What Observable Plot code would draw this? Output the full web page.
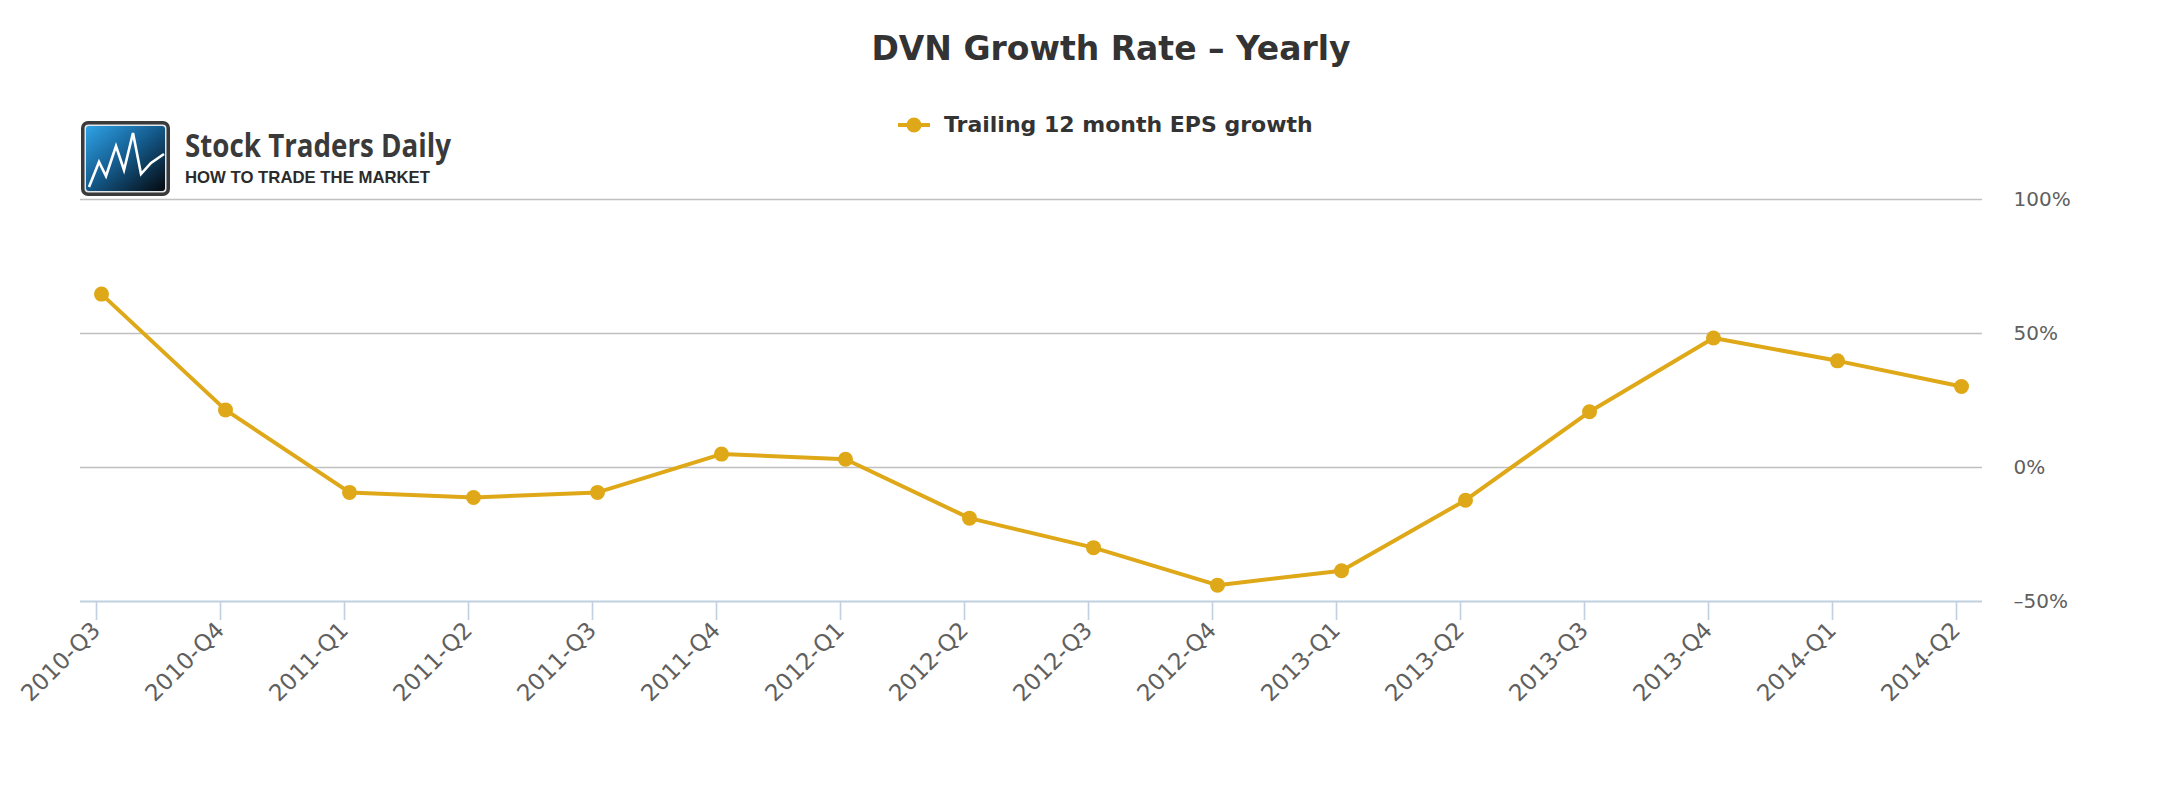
<!DOCTYPE html>
<html>
<head>
<meta charset="utf-8">
<script src="https://cdn.jsdelivr.net/npm/d3@7"></script>
<script src="https://cdn.jsdelivr.net/npm/@observablehq/plot@0.6"></script>
<style>
  body { margin: 0; background: #ffffff; }
  #wrap { position: relative; width: 2182px; height: 800px; overflow: hidden; font-family: "DejaVu Sans", sans-serif; }
  #chart, #deco { position: absolute; left: 0; top: 0; }
  #deco { pointer-events: none; }
</style>
</head>
<body>
<div id="wrap">
  <div id="chart"></div>
  <svg id="deco" width="2182" height="800" xmlns="http://www.w3.org/2000/svg">
    <defs>
      <linearGradient id="logoGrad" x1="0" y1="0" x2="1" y2="1">
        <stop offset="0" stop-color="#2fa3e6"/>
        <stop offset="0.45" stop-color="#155f93"/>
        <stop offset="1" stop-color="#05080d"/>
      </linearGradient>
    </defs>
    <text id="title" x="1111" y="60" text-anchor="middle" font-family="DejaVu Sans" font-weight="bold" font-size="33" fill="#333333"></text>
    <g id="legend"></g>
    <g id="logo">
      <rect x="81" y="121" width="89" height="75" rx="7" ry="7" fill="#3a3a3a"/>
      <rect x="84.5" y="124.5" width="82" height="68" rx="4" ry="4" fill="#dfe6ec"/>
      <rect x="86" y="126" width="79" height="65" rx="3" ry="3" fill="url(#logoGrad)"/>
      <polyline points="89,187 99,162 106,176 116,146 124,170 133,133 141,174 151,163 164,154" fill="none" stroke="#ffffff" stroke-width="2.6" stroke-linejoin="miter"/>
      <text x="185" y="157" font-family="Open Sans" font-weight="bold" font-size="32" fill="#3a3a3a" textLength="266" lengthAdjust="spacingAndGlyphs">Stock Traders Daily</text>
      <text x="185" y="183" font-family="Liberation Sans" font-weight="bold" font-size="17" fill="#2b2b2b" textLength="245" lengthAdjust="spacingAndGlyphs">HOW TO TRADE THE MARKET</text>
    </g>
  </svg>
</div>
<script>
// ---- data ----
const quarters = ["2010-Q3","2010-Q4","2011-Q1","2011-Q2","2011-Q3","2011-Q4","2012-Q1","2012-Q2","2012-Q3","2012-Q4","2013-Q1","2013-Q2","2013-Q3","2013-Q4","2014-Q1","2014-Q2"];
const growth = [64.7, 21.5, -9.3, -11.2, -9.3, 5.0, 3.1, -18.9, -29.9, -43.9, -38.5, -12.2, 20.8, 48.3, 39.8, 30.2];
const yTicks = [-50, 0, 50, 100];
const gridTicks = [0, 50, 100];
const seriesName = "Trailing 12 month EPS growth";
const chartTitle = "DVN Growth Rate \u2013 Yearly";
const seriesColor = "#dea818";

const data = quarters.map((q, i) => ({quarter: q, growth: growth[i]}));

const chart = Plot.plot({
  width: 2182,
  height: 800,
  marginLeft: 80,
  marginRight: 200,
  marginTop: 199,
  marginBottom: 199,
  style: {fontFamily: "DejaVu Sans", background: "transparent", overflow: "visible"},
  x: {type: "point", domain: quarters, padding: 0.125},
  y: {domain: [-50, 100]},
  marks: [
    Plot.ruleY(gridTicks, {stroke: "#c0c0c0", strokeWidth: 1.6}),
    Plot.ruleY([-50], {stroke: "#c0d0e0", strokeWidth: 2}),
    Plot.axisY({
      ticks: yTicks, anchor: "right", tickSize: 0, tickPadding: 31,
      tickFormat: d => (d < 0 ? "\u2013" : "") + Math.abs(d) + "%",
      fontSize: 20, color: "#606060", textAnchor: "start", label: null
    }),
    Plot.axisX({
      anchor: "bottom", tickSize: 19, tickPadding: 6, tickRotate: -45,
      fontSize: 23, color: "#606060", stroke: "#c0d0e0", strokeWidth: 1.6,
      dx: -5, label: null
    }),
    Plot.line(data, {x: "quarter", y: "growth", stroke: seriesColor, strokeWidth: 4}),
    Plot.dot(data, {x: "quarter", y: "growth", fill: seriesColor, r: 7.5})
  ]
});
document.getElementById("chart").appendChild(chart);

// title and legend text
document.getElementById("title").textContent = chartTitle;
const ns = "http://www.w3.org/2000/svg";
const lg = document.getElementById("legend");
const ln = document.createElementNS(ns, "line");
ln.setAttribute("x1", 898); ln.setAttribute("x2", 930); ln.setAttribute("y1", 125); ln.setAttribute("y2", 125);
ln.setAttribute("stroke", seriesColor); ln.setAttribute("stroke-width", 4);
lg.appendChild(ln);
const c = document.createElementNS(ns, "circle");
c.setAttribute("cx", 914); c.setAttribute("cy", 125); c.setAttribute("r", 7.5); c.setAttribute("fill", seriesColor);
lg.appendChild(c);
const t = document.createElementNS(ns, "text");
t.setAttribute("x", 944); t.setAttribute("y", 132);
t.setAttribute("font-family", "DejaVu Sans"); t.setAttribute("font-weight", "bold");
t.setAttribute("font-size", 22); t.setAttribute("fill", "#333333");
t.textContent = seriesName;
lg.appendChild(t);
</script>
</body>
</html>
